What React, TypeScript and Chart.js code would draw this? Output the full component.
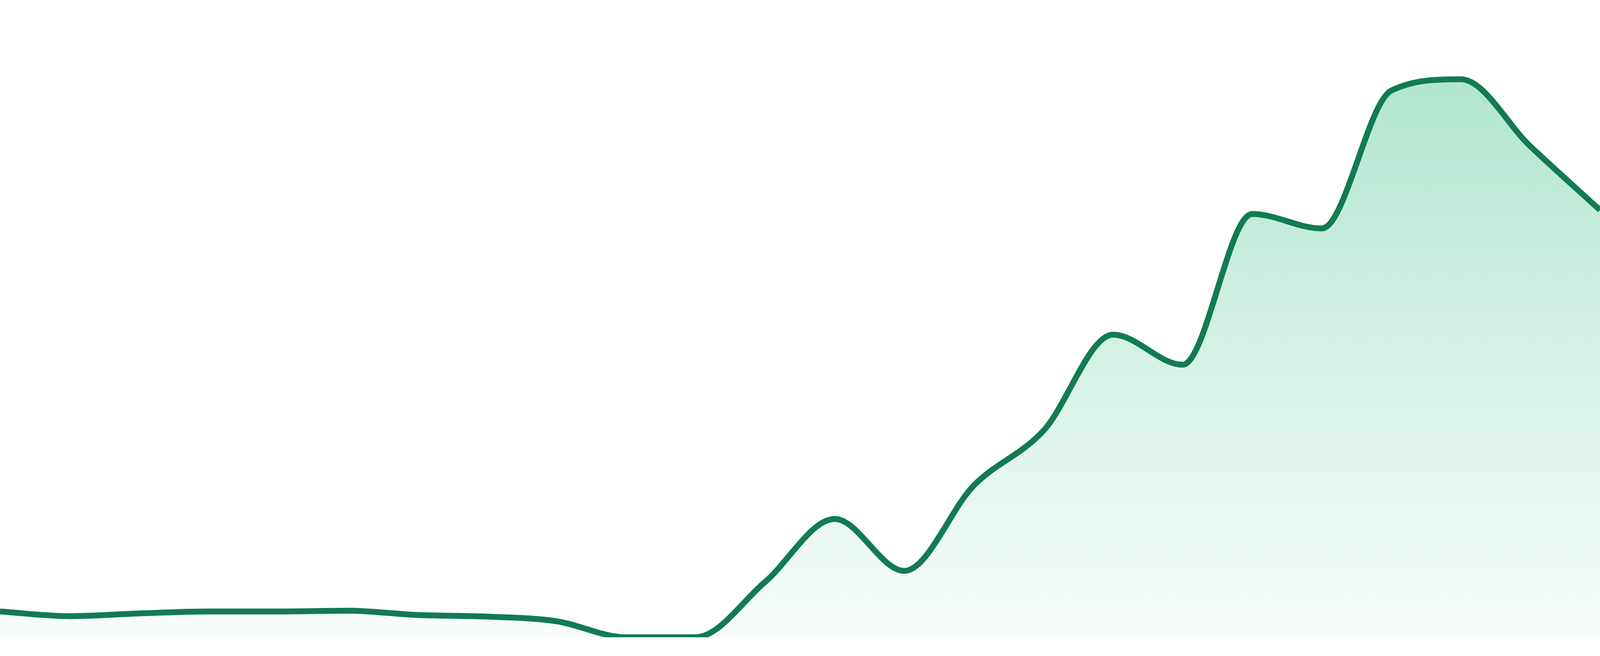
import React, { useEffect, useRef } from "react";
import { Chart, registerables } from "chart.js";

Chart.register(...registerables);

const hours: string[] = [
  "00:00", "01:00", "02:00", "03:00", "04:00", "05:00", "06:00", "07:00",
  "08:00", "09:00", "10:00", "11:00", "12:00", "13:00", "14:00", "15:00",
  "16:00", "17:00", "18:00", "19:00", "20:00", "21:00", "22:00", "23:00",
];

const activity: number[] = [
  6.6, 5.4, 6.1, 6.6, 6.6, 6.8, 5.7, 5.3,
  4.1, 0, 0, 14.2, 30.3, 17.0, 38.9, 52.9,
  77.5, 69.8, 108.4, 104.7, 140.0, 142.9, 125.7, 109.4,
];

const yMin = 0;
const yMax = 150;

export default function App() {
  const canvasRef = useRef<HTMLCanvasElement | null>(null);

  useEffect(() => {
    const canvas = canvasRef.current;
    if (!canvas) return;
    const chart = new Chart(canvas, {
      type: "line",
      data: {
        labels: hours,
        datasets: [
          {
            data: activity,
            borderColor: "#117b52",
            borderWidth: 15,
            pointRadius: 0,
            pointHoverRadius: 0,
            cubicInterpolationMode: "monotone",
            fill: "start",
            backgroundColor: (ctx: any) => {
              const area = ctx.chart.chartArea;
              if (!area) return "rgba(29,181,121,0.2)";
              const g = ctx.chart.ctx.createLinearGradient(0, area.top, 0, area.bottom);
              g.addColorStop(0, "rgba(29,181,121,0.36)");
              g.addColorStop(1, "rgba(29,181,121,0.03)");
              return g;
            },
          },
        ],
      },
      options: {
        animation: false,
        responsive: true,
        maintainAspectRatio: false,
        layout: {
          padding: (ctx: any) => {
            const h = ctx.chart.height || 1680;
            return { top: (h * 132) / 1680, bottom: (h * 48) / 1680, left: 0, right: 0 };
          },
        },
        plugins: {
          legend: { display: false },
          tooltip: { enabled: false },
        },
        scales: {
          x: { display: false, offset: false },
          y: { display: false, min: yMin, max: yMax },
        },
      },
    });
    return () => chart.destroy();
  }, []);

  return (
    <div style={{ position: "fixed", left: 0, top: 0, width: "100vw", height: "100vh", background: "#ffffff" }}>
      <canvas ref={canvasRef} style={{ display: "block" }} />
    </div>
  );
}
